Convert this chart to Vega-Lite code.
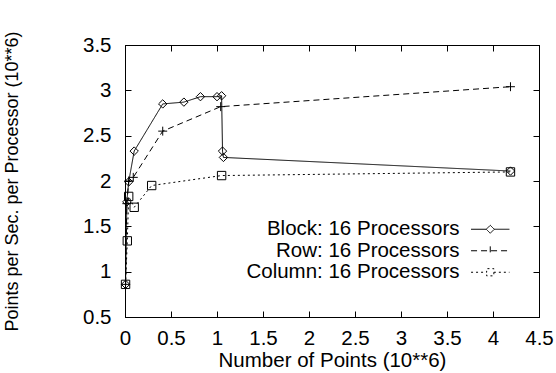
{
  "$schema": "https://vega.github.io/schema/vega-lite/v6.json",
  "width": 414,
  "height": 272,
  "autosize": "none",
  "padding": {"left": 125, "top": 45, "right": 17, "bottom": 56},
  "background": "white",
  "config": {
    "font": "Liberation Sans",
    "view": {"stroke": "black", "strokeWidth": 1},
    "axis": {"grid": false, "domainColor": "black", "tickColor": "black", "labelColor": "black", "titleColor": "black", "labelFont": "Liberation Sans", "titleFont": "Liberation Sans", "labelFontSize": 20.5, "titleFontSize": 20.5, "titleFontWeight": "normal", "tickSize": -6, "domainWidth": 1, "tickWidth": 1}
  },
  "data": {"values": [
    {"series": "Block: 16 Processors", "i": 1, "x": 0.006, "y": 0.86},
    {"series": "Block: 16 Processors", "i": 2, "x": 0.02, "y": 1.77},
    {"series": "Block: 16 Processors", "i": 3, "x": 0.04, "y": 1.99},
    {"series": "Block: 16 Processors", "i": 4, "x": 0.1, "y": 2.33},
    {"series": "Block: 16 Processors", "i": 5, "x": 0.41, "y": 2.85},
    {"series": "Block: 16 Processors", "i": 6, "x": 0.64, "y": 2.87},
    {"series": "Block: 16 Processors", "i": 7, "x": 0.82, "y": 2.93},
    {"series": "Block: 16 Processors", "i": 8, "x": 1.0, "y": 2.93},
    {"series": "Block: 16 Processors", "i": 9, "x": 1.05, "y": 2.94},
    {"series": "Block: 16 Processors", "i": 10, "x": 1.06, "y": 2.33},
    {"series": "Block: 16 Processors", "i": 11, "x": 1.07, "y": 2.26},
    {"series": "Block: 16 Processors", "i": 12, "x": 4.19, "y": 2.11},
    {"series": "Row: 16 Processors", "i": 1, "x": 0.006, "y": 0.86},
    {"series": "Row: 16 Processors", "i": 2, "x": 0.02, "y": 1.75},
    {"series": "Row: 16 Processors", "i": 3, "x": 0.04, "y": 2.0},
    {"series": "Row: 16 Processors", "i": 4, "x": 0.09, "y": 2.04},
    {"series": "Row: 16 Processors", "i": 5, "x": 0.41, "y": 2.55},
    {"series": "Row: 16 Processors", "i": 6, "x": 1.04, "y": 2.82},
    {"series": "Row: 16 Processors", "i": 7, "x": 4.19, "y": 3.04},
    {"series": "Column: 16 Processors", "i": 1, "x": 0.006, "y": 0.86},
    {"series": "Column: 16 Processors", "i": 2, "x": 0.025, "y": 1.34},
    {"series": "Column: 16 Processors", "i": 3, "x": 0.04, "y": 1.83},
    {"series": "Column: 16 Processors", "i": 4, "x": 0.1, "y": 1.71},
    {"series": "Column: 16 Processors", "i": 5, "x": 0.29, "y": 1.95},
    {"series": "Column: 16 Processors", "i": 6, "x": 1.05, "y": 2.06},
    {"series": "Column: 16 Processors", "i": 7, "x": 4.19, "y": 2.1}
  ]},
  "resolve": {"axis": {"x": "independent", "y": "independent"}},
  "layer": [
    {
      "mark": {"type": "line", "color": "black", "strokeWidth": 1},
      "encoding": {
        "x": {"field": "x", "type": "quantitative", "scale": {"domain": [0, 4.5], "nice": false, "zero": false},
              "axis": {"orient": "bottom", "title": "Number of Points (10**6)", "values": [0, 0.5, 1, 1.5, 2, 2.5, 3, 3.5, 4, 4.5], "format": "~g", "labelPadding": 17, "titlePadding": 2, "labelFlush": false}},
        "y": {"field": "y", "type": "quantitative", "scale": {"domain": [0.5, 3.5], "nice": false, "zero": false},
              "axis": {"orient": "left", "title": "Points per Sec. per Processor (10**6)", "titleFontSize": 18, "values": [0.5, 1, 1.5, 2, 2.5, 3, 3.5], "format": "~g", "labelPadding": 20, "titlePadding": 61, "labelFlush": false}},
        "order": {"field": "i", "type": "quantitative"},
        "strokeDash": {"field": "series", "type": "nominal",
          "scale": {"domain": ["Block: 16 Processors", "Row: 16 Processors", "Column: 16 Processors"], "range": [[1, 0], [6, 4], [2, 3]]},
          "legend": {"title": null, "orient": "none", "legendX": 355, "legendY": 174, "padding": 0, "symbolSize": 256, "symbolStrokeColor": "black", "symbolStrokeWidth": 1, "labelFontSize": 20.5, "labelFont": "Liberation Sans", "labelColor": "black", "labelAlign": "right", "labelOffset": -41, "labelLimit": 0, "rowPadding": 0.5,
            "encode": {"symbols": {"update": {"shape": {"signal": "datum.value === 'Block: 16 Processors' ? 'M-2.4,0H-0.5L0,-0.5L0.5,0L0,0.5L-0.5,0M0.5,0H2.4' : (datum.value === 'Row: 16 Processors' ? 'M-2.4,0H2.4M0,-0.55V0.55' : 'M-2.4,0H-0.45V-0.45H0.45V0.45H-0.45V0M0.45,0H2.4')"}, "fill": {"value": "transparent"}, "stroke": {"value": "black"}}}}}
        }
      }
    },
    {
      "transform": [{"filter": "datum.series === 'Block: 16 Processors'"}],
      "mark": {"type": "point", "shape": "diamond", "filled": false, "color": "black", "strokeWidth": 1, "size": 70, "opacity": 1},
      "encoding": {
        "x": {"field": "x", "type": "quantitative", "scale": {"domain": [0, 4.5], "nice": false, "zero": false},
              "axis": {"orient": "top", "title": null, "labels": false, "values": [0, 0.5, 1, 1.5, 2, 2.5, 3, 3.5, 4, 4.5]}},
        "y": {"field": "y", "type": "quantitative", "scale": {"domain": [0.5, 3.5], "nice": false, "zero": false},
              "axis": {"orient": "right", "title": null, "labels": false, "values": [0.5, 1, 1.5, 2, 2.5, 3, 3.5]}}
      }
    },
    {
      "transform": [{"filter": "datum.series === 'Row: 16 Processors'"}],
      "mark": {"type": "point", "shape": "M-1,0H1M0,-1V1", "filled": false, "color": "black", "strokeWidth": 1, "size": 80, "opacity": 1},
      "encoding": {
        "x": {"field": "x", "type": "quantitative", "axis": null},
        "y": {"field": "y", "type": "quantitative", "axis": null}
      }
    },
    {
      "transform": [{"filter": "datum.series === 'Column: 16 Processors'"}],
      "mark": {"type": "point", "shape": "square", "filled": false, "color": "black", "strokeWidth": 1, "size": 70, "opacity": 1},
      "encoding": {
        "x": {"field": "x", "type": "quantitative", "axis": null},
        "y": {"field": "y", "type": "quantitative", "axis": null}
      }
    }
  ]
}
